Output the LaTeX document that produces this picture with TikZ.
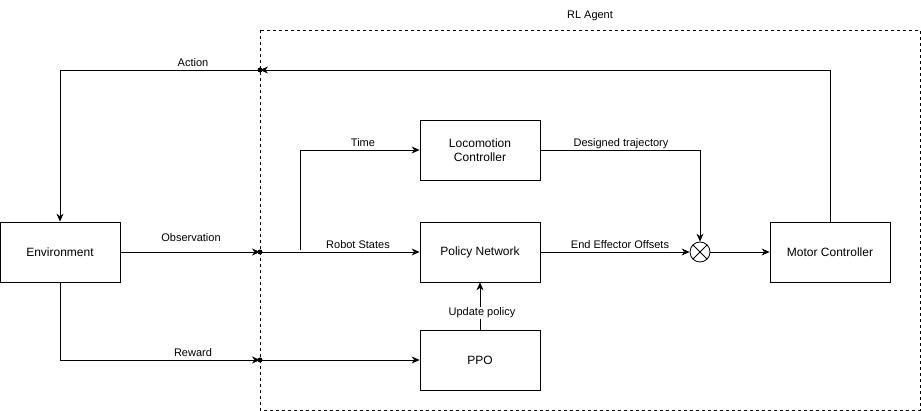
\documentclass[tikz,border=0pt]{standalone}
\usepackage{fontspec}
\setmainfont{Liberation Sans}
\usetikzlibrary{arrows.meta}
\begin{document}
\begin{tikzpicture}[x=1pt,y=-1pt,
  blk/.style={draw,line width=0.8pt,minimum width=120pt,minimum height=60pt,inner sep=0pt,font=\fontsize{12}{14}\selectfont,align=center},
  lbl/.style={font=\fontsize{11}{13}\selectfont,inner sep=0pt},
  conn/.style={line width=0.8pt,-{Stealth[length=8pt,width=7pt]}},
  portdot/.style={circle,fill=black,inner sep=0pt,minimum size=5pt}]
\useasboundingbox (0,0) rectangle (921,411);
\draw[dashed,line width=0.6pt] (260,30) rectangle (920,410);
\node[lbl] (rl) at (590,16) {RL Agent};
\node[blk] (env) at (60,252) {Environment};
\node[blk] (loco) at (480,150) {Locomotion\\Controller};
\node[blk] (pol) at (480,252) {Policy Network};
\node[blk] (ppo) at (480,360) {PPO};
\node[blk] (mot) at (830,252) {Motor Controller};
\node[draw,circle,line width=0.8pt,minimum size=20pt,inner sep=0pt] (mix) at (700,252) {};
\draw[line width=0.8pt] (mix.45) -- (mix.225) (mix.135) -- (mix.315);
\coordinate (pa) at (260,70);
\coordinate (po) at (260,252);
\coordinate (pr) at (260,360);
\coordinate (tb) at (300,250);
% Action
\draw[conn] (mot.north) |- (pa);
\draw[conn] (pa) -| (env.north);
\node[lbl] at (193,63) {Action};
% Observation
\draw[conn] (env.east) -- (po);
\draw[conn] (po) -- (pol.west);
\node[lbl] at (191,238) {Observation};
\node[lbl] at (358,245) {Robot States};
% Time
\draw[conn] (tb) |- (loco.west);
\node[lbl] at (363,143) {Time};
% Designed trajectory
\draw[conn] (loco.east) -| (mix.north);
\node[lbl] at (621,144) {Designed trajectory};
% End effector offsets
\draw[conn] (pol.east) -- (mix.west);
\node[lbl] at (620,245) {End Effector Offsets};
\draw[conn] (mix.east) -- (mot.west);
% Reward
\draw[conn] (env.south) |- (pr);
\draw[conn] (pr) -- (ppo.west);
\node[lbl] at (193,353) {Reward};
% Update policy
\draw[conn] (ppo.north) -- (pol.south);
\node[lbl,fill=white,inner sep=1pt] at (482,313) {Update policy};
% ports
\node[portdot] at (pa) {};
\node[portdot] at (po) {};
\node[portdot] at (pr) {};
\end{tikzpicture}
\end{document}
